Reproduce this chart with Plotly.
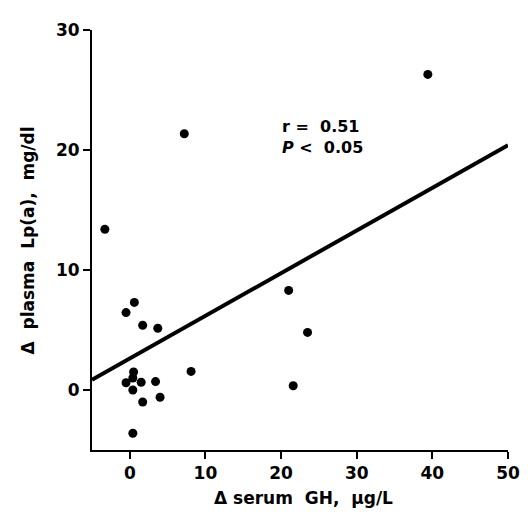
import plotly.graph_objects as go

# Data
gh_change = [-3.3, 0.6, -0.5, 1.7, 3.7, 8.1, 0.5, 0.4, -0.5, 1.5, 3.4, 0.4, 1.7, 4.0, 0.4,
             39.4, 7.2, 21.0, 23.5, 21.6]
lpa_change = [13.4, 7.3, 6.45, 5.4, 5.15, 1.55, 1.5, 1.0, 0.6, 0.65, 0.7, 0.0, -1.0, -0.6, -3.6,
              26.3, 21.35, 8.3, 4.8, 0.35]
fit_x = [-5, 50]
fit_y = [0.85, 20.4]
x_ticks = [0, 10, 20, 30, 40, 50]
y_ticks = [0, 10, 20, 30]

FONT = "DejaVu Sans"
NB = "\u00a0"

fig = go.Figure()
fig.add_trace(go.Scatter(x=fit_x, y=fit_y, mode="lines",
                         line=dict(color="black", width=4), showlegend=False,
                         hoverinfo="skip"))
fig.add_trace(go.Scatter(x=gh_change, y=lpa_change, mode="markers",
                         marker=dict(color="black", size=9), showlegend=False))

axis_common = dict(showline=True, linecolor="black", linewidth=2, ticks="outside",
                   ticklen=7, tickwidth=2, tickcolor="black", showgrid=False,
                   zeroline=False,
                   tickfont=dict(family=FONT, size=17, color="black", weight="bold"))

fig.update_xaxes(range=[-5, 50], tickvals=x_ticks, **axis_common)
fig.update_yaxes(range=[-5, 30], tickvals=y_ticks, **axis_common)

# page body has an 8px margin, so the figure is shrunk and shifted accordingly
fig.update_layout(
    width=524, height=507,
    margin=dict(l=84, r=21, t=16, b=65),
    paper_bgcolor="white", plot_bgcolor="white",
    font=dict(family=FONT, size=17, color="black"),
    annotations=[
        dict(text="<b>\u0394 serum" + NB * 2 + "GH," + NB * 2 + "\u03bcg/L</b>",
             xref="paper", yref="paper", x=(305 - 92) / 419, y=-49 / 426,
             xanchor="center", yanchor="middle", showarrow=False,
             font=dict(family=FONT, size=17, color="black")),
        dict(text="<b>\u0394" + NB * 2 + "plasma" + NB * 2 + "Lp(a)," + NB * 2 + "mg/dl</b>",
             xref="paper", yref="paper", x=(28 - 92) / 419, y=0.5,
             xanchor="center", yanchor="middle", textangle=-90, showarrow=False,
             font=dict(family=FONT, size=17, color="black")),
        dict(text="<b>r =" + NB * 2 + "0.51</b>",
             xref="paper", yref="paper", x=(281 - 92) / 419, y=(450 - 122) / 426,
             xanchor="left", yanchor="middle", showarrow=False,
             font=dict(family=FONT, size=16, color="black")),
        dict(text="<b><i>P</i> <" + NB + " 0.05</b>",
             xref="paper", yref="paper", x=(281 - 92) / 419, y=(450 - 143) / 426,
             xanchor="left", yanchor="middle", showarrow=False,
             font=dict(family=FONT, size=16, color="black")),
    ],
)

fig.write_html("out.html")
